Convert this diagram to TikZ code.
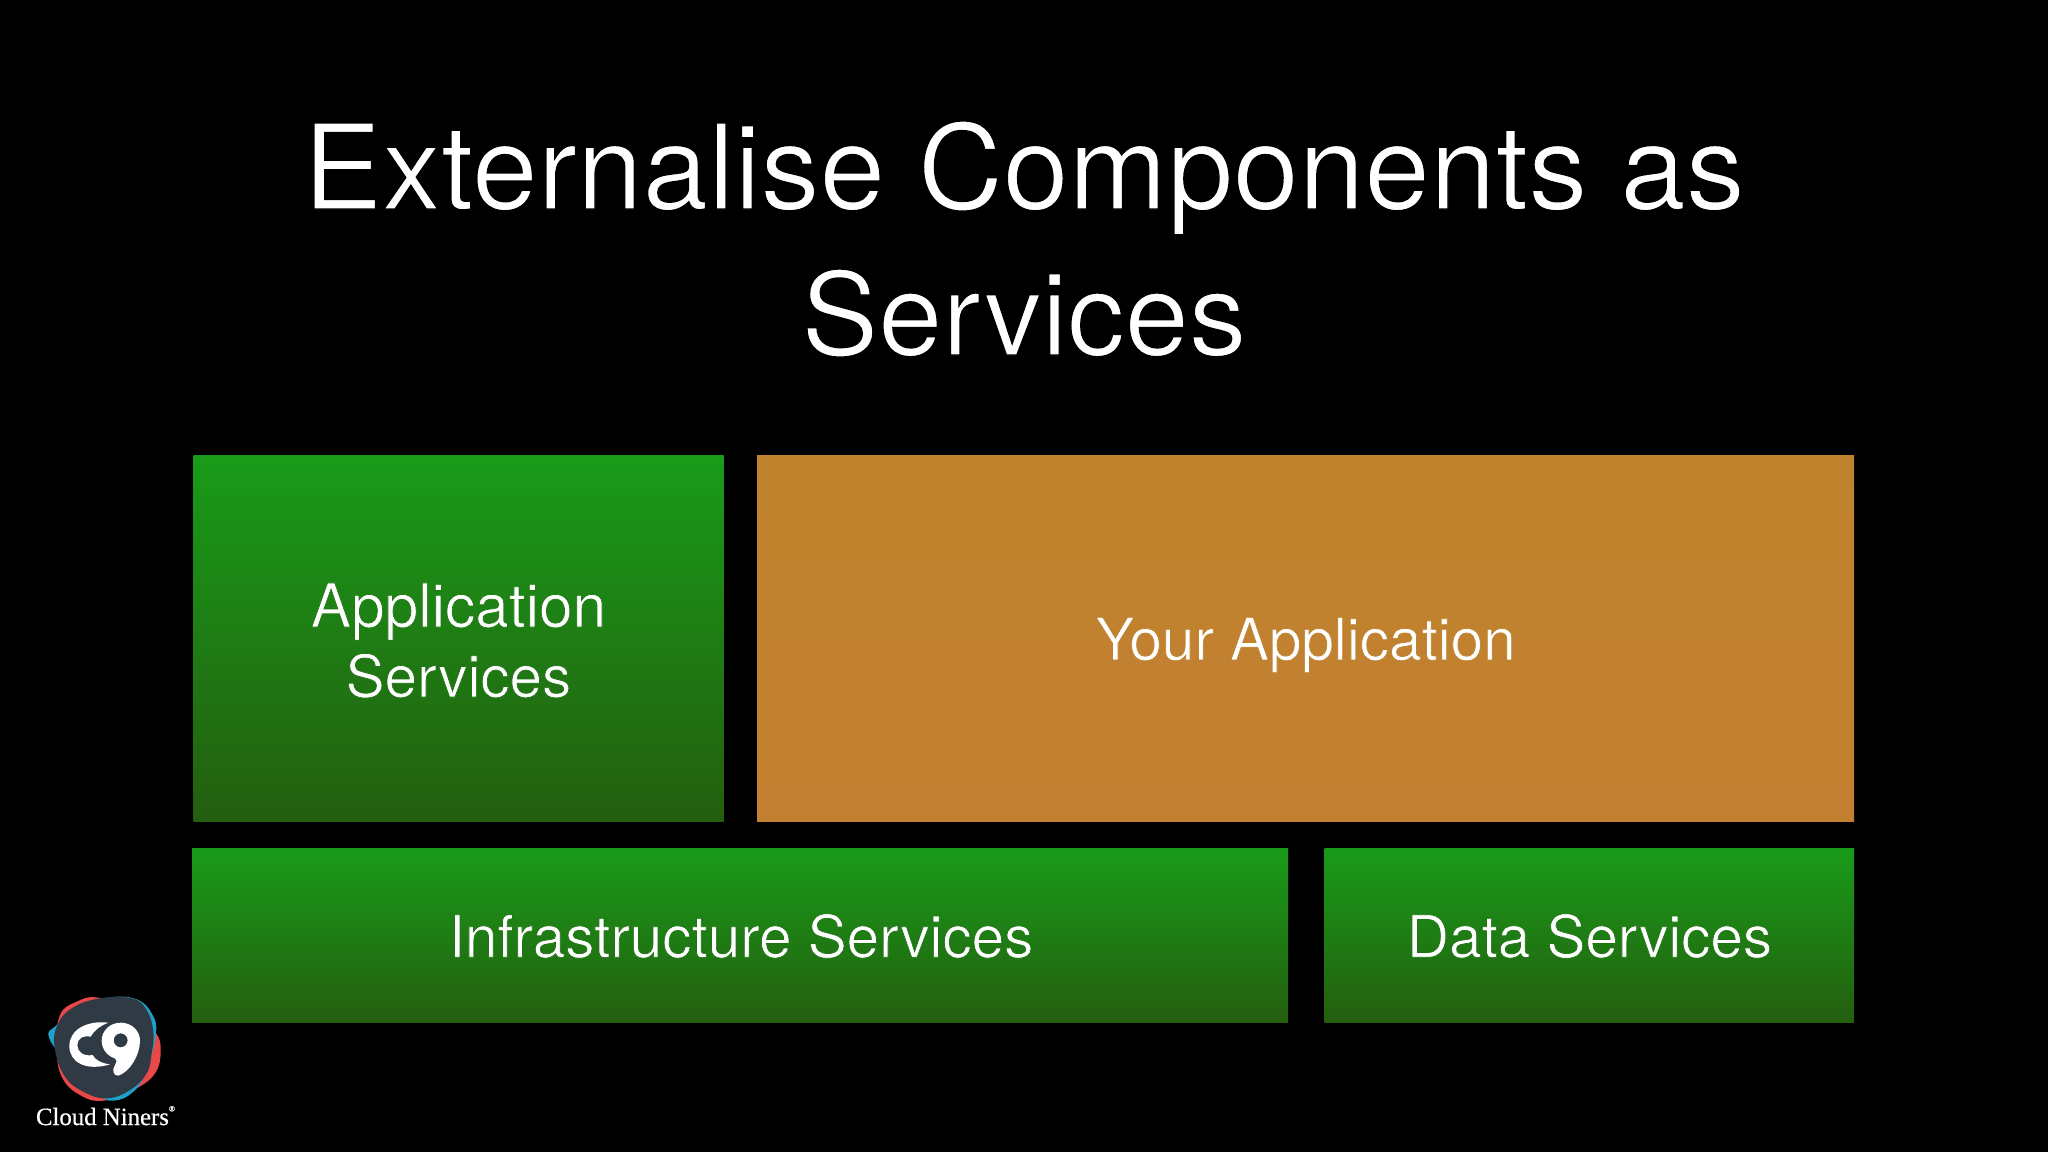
\documentclass[tikz,border=0pt]{standalone}
\usepackage{fontspec}
\setmainfont{TeX Gyre Heros}
\newfontfamily\logofont[FakeBold=0.6]{Liberation Serif}
\definecolor{gtop}{RGB}{25,155,25}
\definecolor{gbot}{RGB}{36,94,15}
\definecolor{otop}{RGB}{192,131,45}
\definecolor{obot}{RGB}{195,128,50}
\definecolor{logodark}{RGB}{48,58,68}
\definecolor{logored}{RGB}{232,72,72}
\definecolor{logoblue}{RGB}{30,160,200}
\newcommand{\thintext}[3]{\special{pdf:code 2 Tr #2 w #1 RG}#3\special{pdf:code 0 Tr 0 w}}
\tikzset{
 greenbox/.style={rectangle,inner sep=0pt,outer sep=0pt,top color=gtop,bottom color=gbot},
 orangebox/.style={rectangle,inner sep=0pt,outer sep=0pt,top color=otop,bottom color=obot},
 boxtext/.style={text=white,inner sep=0pt,font=\fontsize{29.2}{35}\selectfont,align=center},
}
\begin{document}
\begin{tikzpicture}[x=0.5pt,y=-0.5pt]
\path[fill=black,use as bounding box] (0,0) rectangle (2048,1152);
\node[text=white,align=center,inner sep=0pt,font=\fontsize{59}{73}\selectfont] (title) at (1024,239) {\thintext{0 0 0}{0.7}{Externalise Components as}\\\fontsize{57.6}{73}\selectfont\thintext{0 0 0}{0.7}{Services}};
\node[greenbox,minimum width=265pt,minimum height=183pt] (appsvc) at (458.5,638.5) {};
\node[boxtext] (applabel) at (458.5,640.5) {\fontsize{30.2}{35}\selectfont\thintext{0.12 0.48 0.08}{0.35}{Application}\\\fontsize{29.2}{35}\selectfont\thintext{0.12 0.45 0.08}{0.35}{Services}};
\node[orangebox,minimum width=548.5pt,minimum height=183pt] (yourapp) at (1305.5,638.5) {};
\node[boxtext] (yourlabel) at (1305.5,645) {\thintext{0.75 0.51 0.18}{0.35}{Your Application}};
\node[greenbox,minimum width=548pt,minimum height=87pt] (infra) at (740,935.5) {};
\node[boxtext] (infralabel) at (741,936) {\thintext{0.12 0.46 0.08}{0.35}{Infrastructure Services}};
\node[greenbox,minimum width=264.75pt,minimum height=87pt] (data) at (1589.25,935.5) {};
\node[boxtext] (datalabel) at (1589.5,936) {\thintext{0.12 0.46 0.08}{0.35}{Data Services}};
\begin{scope}[shift={(0,970)},x=0.1666667pt,y=-0.1666667pt]
\fill[logored] plot[smooth cycle,tension=0.7] coordinates {(295,83)(230,95)(180,135)(170,230)(185,320)(240,375)(310,392)(400,360)(465,310)(482,240)(465,185)(400,120)};
\fill[logoblue] plot[smooth cycle,tension=0.7] coordinates {(330,82)(410,88)(455,130)(468,190)(440,300)(400,365)(340,392)(290,370)(220,300)(148,205)(170,165)(240,110)};
\fill[logodark] plot[smooth cycle,tension=0.7] coordinates {(300,85)(395,85)(440,120)(460,185)(455,250)(440,310)(390,360)(320,385)(250,365)(195,320)(165,240)(170,170)(215,115)};
\fill[white] (325,158) .. controls (260,150) and (208,180) .. (208,228) .. controls (208,275) and (255,305) .. (330,283) .. controls (305,280) and (285,270) .. (278,255) .. controls (250,260) and (232,245) .. (232,225) .. controls (232,205) and (250,195) .. (272,200) .. controls (285,178) and (305,165) .. (325,158) -- cycle;
\fill[white,even odd rule] (362,158) .. controls (395,158) and (420,182) .. (420,212) .. controls (420,255) and (390,305) .. (355,317) .. controls (340,318) and (335,300) .. (345,285) .. controls (350,275) and (352,270) .. (345,265) .. controls (320,258) and (305,235) .. (305,212) .. controls (305,182) and (330,158) .. (362,158) -- cycle
 (362,211) circle[x radius=21,y radius=21];
\end{scope}
\node[text=white,inner sep=0pt,anchor=base,font=\logofont\fontsize{12.4}{14}\selectfont] (logotext) at (105.5,1125) {Cloud Niners\raisebox{0.55em}{\fontsize{4}{4}\selectfont ®}};
\end{tikzpicture}
\end{document}
